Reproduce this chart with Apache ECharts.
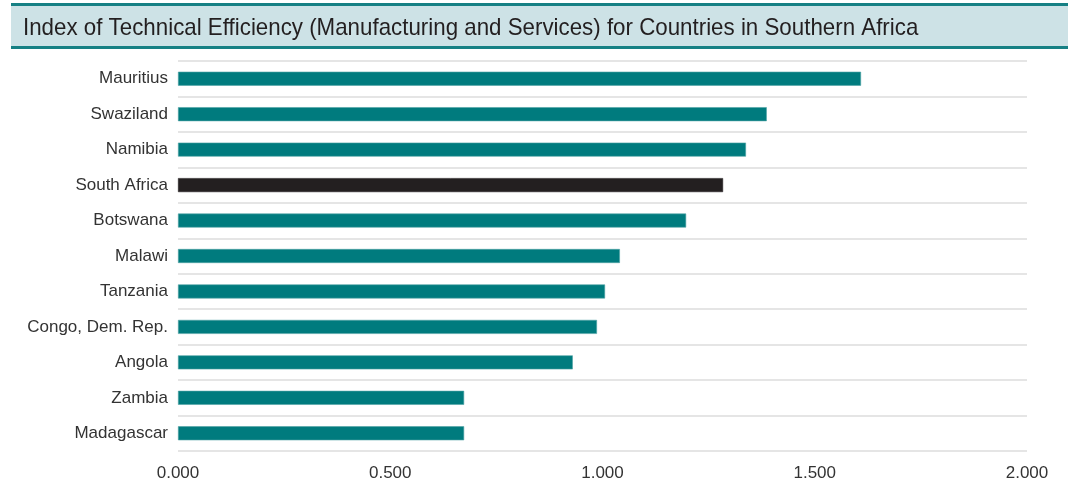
<!DOCTYPE html>
<html><head><meta charset="utf-8">
<script src="https://cdn.jsdelivr.net/npm/echarts@6/dist/echarts.min.js"></script>
<style>html,body{margin:0;padding:0;background:#fff}#c{width:1071px;height:493px}</style>
</head><body><div id="c"></div>
<script>
const titleText = 'Index of Technical Efficiency (Manufacturing and Services) for Countries in Southern Africa';
const countries = ['Mauritius','Swaziland','Namibia','South Africa','Botswana','Malawi','Tanzania','Congo, Dem. Rep.','Angola','Zambia','Madagascar'];
const values = [1.609, 1.387, 1.338, 1.284, 1.197, 1.041, 1.006, 0.987, 0.930, 0.674, 0.674];
const highlight = 'South Africa';
const xTicks = [0, 0.5, 1.0, 1.5, 2.0];

const FONT = '"Liberation Sans", Arial, sans-serif';
const chart = echarts.init(document.getElementById('c'), null, {renderer:'canvas'});
chart.setOption({
  animation:false,
  backgroundColor:'#fff',
  graphic:[
    {type:'rect', shape:{x:11,y:4,width:1057,height:44}, style:{fill:'#cde2e6'}, z:0},
    {type:'line', shape:{x1:11,y1:4.5,x2:1068,y2:4.5}, style:{stroke:'#168084',lineWidth:3}, z:1},
    {type:'line', shape:{x1:11,y1:47.5,x2:1068,y2:47.5}, style:{stroke:'#168084',lineWidth:3}, z:1},
    {type:'text', x:23, y:28, scaleX:0.93, scaleY:1,
     style:{text:titleText, x:0, y:0, font:'24px '+FONT, fill:'#231f20', textVerticalAlign:'middle', textAlign:'left'}, z:2}
  ],
  grid:{left:178, right:44, top:61, bottom:42, containLabel:false},
  xAxis:{
    type:'value', min:0, max:2, interval:0.5,
    axisLine:{show:false}, axisTick:{show:false}, splitLine:{show:false},
    axisLabel:{formatter:v=>v.toFixed(3), fontFamily:FONT, fontSize:17, color:'#333', margin:14,
      customValues: xTicks}
  },
  yAxis:{
    type:'category', data:countries, inverse:true,
    axisLine:{show:false}, axisTick:{show:false},
    splitLine:{show:true, lineStyle:{color:'#dcdcdc', width:1.5}},
    axisLabel:{fontFamily:FONT, fontSize:17, color:'#333', margin:10}
  },
  series:[{
    type:'bar', barWidth:14,
    data: countries.map((c,i)=>({value:values[i], itemStyle:{color: c===highlight ? '#231f20' : '#007b7e', borderColor: c===highlight ? '#231f20' : '#4fa3a5', borderWidth:0.6}}))
  }]
});
</script></body></html>
